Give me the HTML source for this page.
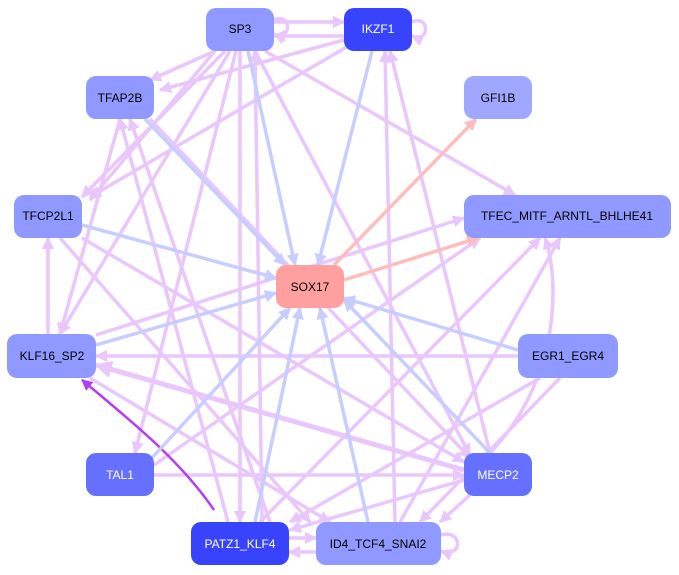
<!DOCTYPE html>
<html><head><meta charset="utf-8"><style>
html,body{margin:0;padding:0;background:#fff;width:679px;height:575px;overflow:hidden}
svg{display:block}
text{font-family:"Liberation Sans",sans-serif;font-size:12px;text-anchor:middle;dominant-baseline:central}
</style></head><body>
<svg width="679" height="575" viewBox="0 0 679 575">
<defs>
<marker id="p" viewBox="0 0 10 10" refX="9" refY="5" markerWidth="3.5" markerHeight="3.5" orient="auto"><path d="M0,0L10,5L0,10z" fill="#e9c6fb"/></marker>
<marker id="b" viewBox="0 0 10 10" refX="9" refY="5" markerWidth="3.5" markerHeight="3.5" orient="auto"><path d="M0,0L10,5L0,10z" fill="#c8cdff"/></marker>
<marker id="r" viewBox="0 0 10 10" refX="9" refY="5" markerWidth="3.5" markerHeight="3.5" orient="auto"><path d="M0,0L10,5L0,10z" fill="#ffbcbc"/></marker>
<marker id="d" viewBox="0 0 10 10" refX="9" refY="5" markerWidth="4.5" markerHeight="4.5" orient="auto"><path d="M0,0L10,5L0,10z" fill="#b43cf5"/></marker>
</defs>
<g fill="none" stroke="#e9c6fb" stroke-width="3.5" marker-end="url(#p)">
<path d="M274,22L344,22"/><path d="M344,36L274,36"/>
<path d="M412,22c18,-8 18,22 0,14"/>
<path d="M274,20c18,-8 18,22 0,14"/>
<path d="M215,51L150,80"/><path d="M225,51L82,197"/><path d="M230,51L60,334"/><path d="M236,51L135,453"/>
<path d="M240,51L240,522"/><path d="M255,51L470,455"/><path d="M265,51L515,195"/>
<path d="M344,40L160,90"/><path d="M350,45L90,197"/>
<path d="M490,453L390,51"/><path d="M395,522L385,51"/>
<path d="M262,522L255,51"/><path d="M228,522L120,119"/>
<path d="M120,119L60,334"/><path d="M150,119L470,458"/>
<path d="M48,334L48,238"/><path d="M96,335L464,218"/>
<path d="M518,356L96,356"/><path d="M464,470L96,365" stroke-width="5"/>
<path d="M154,475L464,475"/><path d="M154,465L480,238"/>
<path d="M90,378L330,522"/><path d="M60,238L310,522"/><path d="M82,238L464,462"/>
<path d="M260,522L540,238"/><path d="M400,522L560,238"/>
<path d="M490,453C560,380 560,280 545,238"/>
<path d="M540,378L290,522"/><path d="M560,378L420,522"/>
<path d="M464,480L290,530"/><path d="M470,495L440,522"/>
<path d="M289,538L316,538"/><path d="M316,552L289,552"/>
<path d="M441,535c22,-6 22,24 0,16"/>
<path d="M215,51L90,200"/><path d="M270,522L130,119"/>
</g>
<path d="M214,510C180,460 130,420 82,380" fill="none" stroke="#b43cf5" stroke-width="2.5" marker-end="url(#d)"/>
<g fill="none" stroke="#c8cdff" stroke-width="3.5" marker-end="url(#b)">
<path d="M248,51L295,265"/><path d="M372,51L318,265"/><path d="M145,119L285,265"/>
<path d="M82,225L276,278"/><path d="M96,345L276,293"/><path d="M518,350L344,298"/>
<path d="M490,453L344,300"/><path d="M150,460L290,308"/><path d="M255,522L300,308"/><path d="M368,522L320,308"/>
</g>
<g fill="none" stroke="#ffbcbc" stroke-width="3.5" marker-end="url(#r)">
<path d="M334,265L476,119"/><path d="M344,280L478,238"/>
</g>
<g>
<rect x="206" y="8" width="68" height="43" rx="10" fill="#8f99ff"/><text x="240" y="29">SP3</text>
<rect x="344" y="8" width="68" height="43" rx="10" fill="#3744fb"/><text x="378" y="29" fill="#fff">IKZF1</text>
<rect x="86" y="76" width="68" height="43" rx="10" fill="#8f99ff"/><text x="120" y="98">TFAP2B</text>
<rect x="464" y="76" width="68" height="43" rx="10" fill="#a0a7ff"/><text x="498" y="98">GFI1B</text>
<rect x="14" y="195" width="68" height="43" rx="10" fill="#8f99ff"/><text x="48" y="216">TFCP2L1</text>
<rect x="464" y="195" width="207" height="43" rx="10" fill="#8f99ff"/><text x="567" y="216">TFEC_MITF_ARNTL_BHLHE41</text>
<rect x="276" y="265" width="68" height="43" rx="10" fill="#ffa0a0"/><text x="310" y="287">SOX17</text>
<rect x="7" y="334" width="89" height="44" rx="10" fill="#8f99ff"/><text x="52" y="356">KLF16_SP2</text>
<rect x="518" y="334" width="100" height="44" rx="10" fill="#8f99ff"/><text x="568" y="356">EGR1_EGR4</text>
<rect x="86" y="453" width="68" height="43" rx="10" fill="#6670ff"/><text x="120" y="475" fill="#fff">TAL1</text>
<rect x="464" y="453" width="68" height="43" rx="10" fill="#6670ff"/><text x="498" y="475" fill="#fff">MECP2</text>
<rect x="191" y="522" width="98" height="43" rx="10" fill="#3744fb"/><text x="240" y="544" fill="#fff">PATZ1_KLF4</text>
<rect x="316" y="522" width="125" height="43" rx="10" fill="#8f99ff"/><text x="378" y="544">ID4_TCF4_SNAI2</text>
</g>
</svg>
</body></html>
